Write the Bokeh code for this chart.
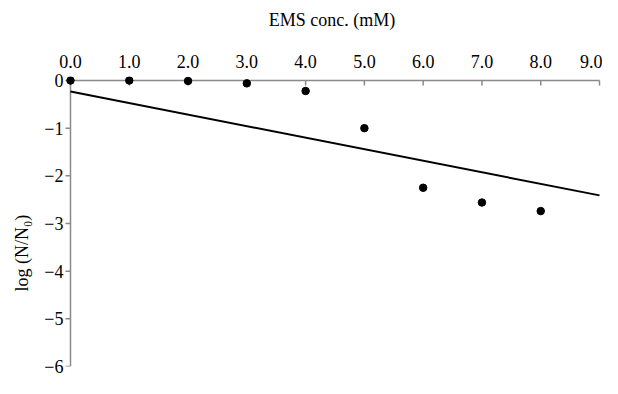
import math
from bokeh.plotting import figure
from bokeh.models import Range1d, FixedTicker, ColumnDataSource, Title
from bokeh.embed import file_html
from bokeh.resources import INLINE

# Data
ems_conc = [0, 1, 2, 3, 4, 5, 6, 7, 8]
log_survival = [0.0, 0.0, -0.01, -0.06, -0.22, -1.0, -2.25, -2.56, -2.74]
fit_x = [0.0, 9.0]
fit_y = [-0.23, -2.41]
x_ticks = [0, 1, 2, 3, 4, 5, 6, 7, 8, 9]
x_tick_labels = ["0.0", "1.0", "2.0", "3.0", "4.0", "5.0", "6.0", "7.0", "8.0", "9.0"]
y_ticks = [0, -1, -2, -3, -4, -5, -6]
y_tick_labels = ["0", "\u22121", "\u22122", "\u22123", "\u22124", "\u22125", "\u22126"]

FONT = "Liberation Serif"
AXIS_COLOR = "#8a8a8a"

p = figure(width=602, height=378, output_backend="svg", toolbar_location=None,
           x_axis_location="above", y_axis_location="left",
           x_range=Range1d(-0.153, 9.051), y_range=Range1d(-6, 0.084),
           min_border_left=61, min_border_right=0, min_border_top=76, min_border_bottom=12)
p.outline_line_color = None
p.xgrid.visible = False
p.ygrid.visible = False
p.background_fill_color = "white"
p.border_fill_color = "white"

# axis lines and ticks drawn at the data origin (x = 0, y = 0)
x0, x1 = x_ticks[0], x_ticks[-1]
y0, y1 = y_ticks[-1], y_ticks[0]
p.segment(x0=[x0], y0=[0], x1=[x1], y1=[0], line_color=AXIS_COLOR, line_width=1.5)
p.segment(x0=[0], y0=[y0], x1=[0], y1=[y1], line_color=AXIS_COLOR, line_width=1.5)
p.ray(x=x_ticks, y=[0] * len(x_ticks), length=5, length_units="screen",
      angle=-math.pi / 2, line_color=AXIS_COLOR, line_width=1.5)
p.ray(x=[0] * len(y_ticks), y=y_ticks, length=5, length_units="screen",
      angle=math.pi, line_color=AXIS_COLOR, line_width=1.5)

p.line(fit_x, fit_y, line_color="black", line_width=2)
src = ColumnDataSource(dict(x=ems_conc, y=log_survival))
p.scatter("x", "y", source=src, size=7.5, color="black")

xa = p.xaxis[0]
xa.ticker = FixedTicker(ticks=x_ticks)
xa.major_label_overrides = {t: l for t, l in zip(x_ticks, x_tick_labels)}
xa.minor_tick_line_color = None
xa.major_tick_line_color = None
xa.axis_line_color = None
xa.major_tick_in = 0
xa.major_tick_out = 0
xa.major_label_text_font = FONT
xa.major_label_text_font_size = "18px"
xa.major_label_text_color = "black"
xa.major_label_standoff = 9
xa.axis_label = "EMS conc. (mM)"
xa.axis_label_text_font = FONT
xa.axis_label_text_font_size = "18px"
xa.axis_label_text_font_style = "normal"
xa.axis_label_text_color = "black"
xa.axis_label_standoff = 22

ya = p.yaxis[0]
ya.ticker = FixedTicker(ticks=y_ticks)
ya.major_label_overrides = {t: l for t, l in zip(y_ticks, y_tick_labels)}
ya.minor_tick_line_color = None
ya.major_tick_line_color = None
ya.axis_line_color = None
ya.major_tick_in = 0
ya.major_tick_out = 0
ya.major_label_text_font = FONT
ya.major_label_text_font_size = "18px"
ya.major_label_text_color = "black"
ya.major_label_standoff = -2

ytitle = Title(text="log (N/N\u2080)", align="left", offset=75, standoff=19,
               text_font=FONT, text_font_size="18px", text_font_style="normal",
               text_color="black")
p.add_layout(ytitle, "left")

open("out.html", "w").write(file_html(p, INLINE))
